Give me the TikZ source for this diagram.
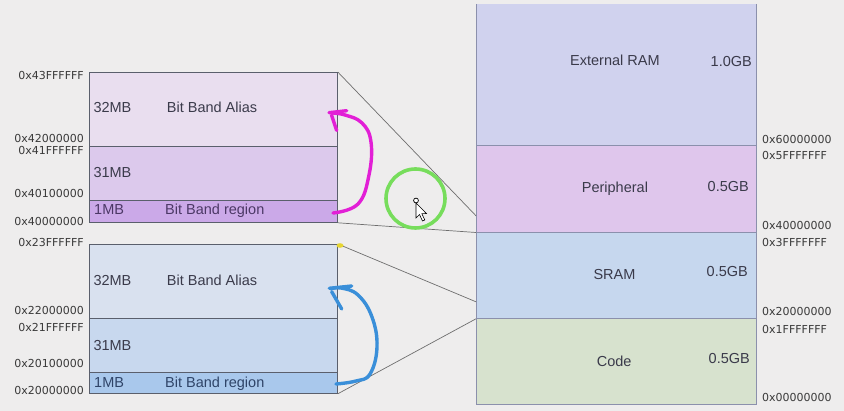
\documentclass[tikz,border=0pt]{standalone}
\usepackage{fontspec}
\setmainfont{Liberation Sans}
\newfontfamily\hexfont{DejaVu Sans}
\usetikzlibrary{calc}
\definecolor{bg}{HTML}{EEEDED}
\definecolor{extc}{HTML}{D0D2EE}
\definecolor{perc}{HTML}{DFC6EC}
\definecolor{sramc}{HTML}{C6D7EE}
\definecolor{codec}{HTML}{D7E2CE}
\definecolor{taA}{HTML}{E9DEEF}
\definecolor{taB}{HTML}{DCC9EC}
\definecolor{taC}{HTML}{CBA9E8}
\definecolor{baA}{HTML}{D9E1EF}
\definecolor{baB}{HTML}{C8D8EE}
\definecolor{baC}{HTML}{A9C8EC}
\definecolor{txt}{HTML}{3A3A4A}
\definecolor{txtp}{HTML}{4C3866}
\definecolor{txtb}{HTML}{2F4468}
\definecolor{hextxt}{HTML}{3A3A3A}
\definecolor{lline}{HTML}{5A5F6C}
\definecolor{rline}{HTML}{8B90AC}
\definecolor{connc}{HTML}{6E6E6E}
\definecolor{magc}{HTML}{E21FD6}
\definecolor{bluc}{HTML}{3A8FD9}
\definecolor{grnc}{HTML}{77DD5C}
\definecolor{yelc}{HTML}{E6D530}
\begin{document}
\begin{tikzpicture}[x=1pt,y=-1pt,
  lregion/.style={draw=lline, line width=0.8pt, inner sep=0pt, anchor=north west, minimum width=248pt},
  rregion/.style={draw=rline, line width=0.8pt, inner sep=0pt, anchor=north west, minimum width=280pt},
  lbl/.style={inner sep=0pt, anchor=base west, font=\fontsize{14.5}{16}\selectfont, text=txt},
  gb/.style={lbl, anchor=base east},
  hexl/.style={inner sep=0pt, anchor=base east, font=\hexfont\fontsize{11}{13}\selectfont, text=hextxt},
  hexr/.style={hexl, anchor=base west},
  conn/.style={draw=connc, line width=0.7pt},
  hand/.style={line width=3.4pt, line cap=round, line join=round}
]
\useasboundingbox (0,0) rectangle (844,411);
\fill[bg] (0,0) rectangle (844,411);

% ---------- right column ----------
\node[rregion, draw=none, fill=extc, minimum height=141pt] (ext) at (476,4) {};
\draw[rline, line width=0.8pt] (ext.north west) -- (ext.south west) (ext.north east) -- (ext.south east);
\node[rregion, fill=perc, minimum height=86.7pt] (per) at (476,145) {};
\node[rregion, fill=sramc, minimum height=86.3pt] (sram) at (476,231.7) {};
\node[rregion, fill=codec, minimum height=86pt] (code) at (476,318) {};

\node[lbl] at (570,65.7) {External RAM};
\node[gb] at (752,66.7) {1.0GB};
\node[lbl] at (581.7,192.7) {Peripheral};
\node[gb] at (749,191.7) {0.5GB};
\node[lbl] at (593.3,280) {SRAM};
\node[gb] at (748,276.7) {0.5GB};
\node[lbl] at (596.7,366.7) {Code};
\node[gb] at (750,363.3) {0.5GB};

\node[hexr] at (762,144) {0x60000000};
\node[hexr] at (762,159.3) {0x5FFFFFFF};
\node[hexr] at (762,230) {0x40000000};
\node[hexr] at (762,246.7) {0x3FFFFFFF};
\node[hexr] at (762,316) {0x20000000};
\node[hexr] at (762,333.3) {0x1FFFFFFF};
\node[hexr] at (762,401.7) {0x00000000};

% ---------- left upper box (peripheral bit band) ----------
\node[lregion, fill=taA, minimum height=74pt] (pa) at (89,72) {};
\node[lregion, fill=taB, minimum height=54pt] (pb) at (89,146) {};
\node[lregion, fill=taC, minimum height=22pt] (pc) at (89,200) {};

\node[lbl] at (93.3,112.7) {32MB};
\node[lbl] at (166.7,112.7) {Bit Band Alias};
\node[lbl] at (93.3,178) {31MB};
\node[lbl, text=txtp] at (94,215) {1MB};
\node[lbl, text=txtp] at (165,215) {Bit Band region};

\node[hexl] at (84,79.3) {0x43FFFFFF};
\node[hexl] at (84,143) {0x42000000};
\node[hexl] at (84,155) {0x41FFFFFF};
\node[hexl] at (84,198) {0x40100000};
\node[hexl] at (84,226) {0x40000000};

% ---------- left lower box (SRAM bit band) ----------
\node[lregion, fill=baA, minimum height=74pt] (sa) at (89,244) {};
\node[lregion, fill=baB, minimum height=54pt] (sb) at (89,318) {};
\node[lregion, fill=baC, minimum height=21pt] (sc) at (89,372) {};

\node[lbl] at (93.3,285.7) {32MB};
\node[lbl] at (166.7,285.7) {Bit Band Alias};
\node[lbl] at (93.3,350.7) {31MB};
\node[lbl, text=txtb] at (94,388) {1MB};
\node[lbl, text=txtb] at (165,388) {Bit Band region};

\node[hexl] at (84,246.7) {0x23FFFFFF};
\node[hexl] at (84,315) {0x22000000};
\node[hexl] at (84,331.7) {0x21FFFFFF};
\node[hexl] at (84,367.7) {0x20100000};
\node[hexl] at (84,394.3) {0x20000000};

% ---------- connectors ----------
\coordinate (perbb) at ([yshift=16.7pt]per.south west);
\coordinate (srambb) at ([yshift=17pt]sram.south west);
\draw[conn] (pa.north east) -- (perbb);
\draw[conn] (pc.south east) -- (per.south west);
\draw[conn] (sa.north east) -- (srambb);
\draw[conn] (sc.south east) -- (sram.south west);

% ---------- hand-drawn annotations ----------
\draw[hand, magc] plot[smooth, tension=0.7] coordinates {(333,213) (358,204) (369,175) (371,142) (362,123) (345,115) (332,113)};
\draw[hand, magc] (329,112.7) -- (346.7,110.7);
\draw[hand, magc] (331.5,115) -- (336.7,130.5);

\draw[hand, bluc] plot[smooth, tension=0.7] coordinates {(336,384) (356,381) (370,374) (377,347) (372,317) (358,295) (341,288) (331,289)};
\draw[hand, bluc] (329.3,288.3) -- (351.7,286);
\draw[hand, bluc] (331.7,291.7) -- (341.7,309);

\draw[grnc, line width=3.6pt] (415.5,198.5) circle[radius=29.5pt];

\fill[yelc] (340,245.5) ellipse[x radius=3.5pt, y radius=2.3pt];

% cursor
\draw[black, line width=0.6pt, fill=white] (416,203) -- (416,218) -- (419.5,214.5) -- (422.5,221) -- (424.8,220) -- (421.8,213.6) -- (426.5,213.6) -- cycle;
\draw[black, line width=0.7pt, fill=white] (416,200.5) circle[radius=2.4pt];
\end{tikzpicture}
\end{document}
